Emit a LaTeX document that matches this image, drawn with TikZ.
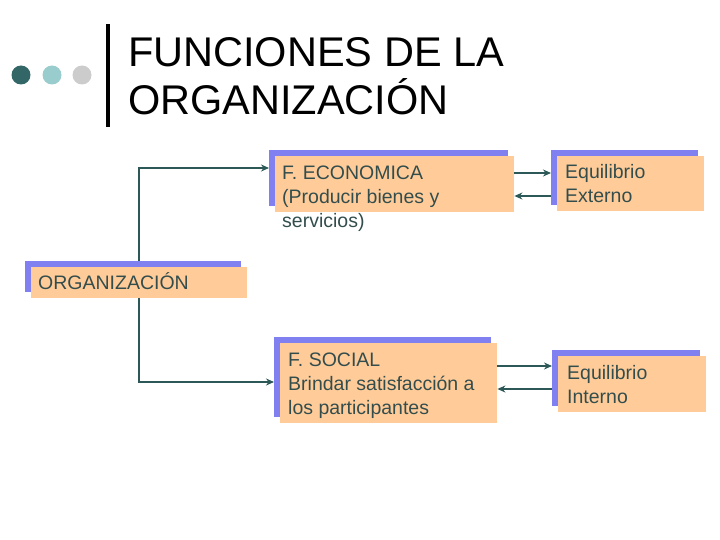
\documentclass[tikz,border=0pt]{standalone}
\usepackage{fontspec}
\setmainfont{Liberation Sans}
\usetikzlibrary{arrows.meta,shadows,calc,backgrounds}
\definecolor{boxfill}{RGB}{255,204,153}
\definecolor{shadowblue}{RGB}{128,128,240}
\definecolor{txtgrey}{RGB}{51,77,77}
\definecolor{connc}{RGB}{45,88,88}
\definecolor{dotdark}{RGB}{51,102,102}
\definecolor{dotlight}{RGB}{153,204,204}
\definecolor{dotgrey}{RGB}{204,204,204}
\tikzset{
  orgbox/.style={fill=boxfill, inner sep=0pt, anchor=north west,
    general shadow={fill=shadowblue, shadow xshift=-6pt, shadow yshift=6pt}},
  boxtext/.style={inner sep=0pt, anchor=north west, align=left, text=txtgrey,
    font=\fontsize{19.5}{24}\selectfont},
  conn/.style={draw=connc, line width=2pt},
  arr/.style={conn, -{Stealth[length=8pt,width=7pt]}},
  titletext/.style={inner sep=0pt, anchor=north west, align=left,
    font=\fontsize{41.5}{48}\selectfont}
}
\begin{document}
\begin{tikzpicture}[x=1pt,y=-1pt]
\useasboundingbox (0,0) rectangle (720,540);
% title
\fill[dotdark] (21,75) circle (9.5);
\fill[dotlight] (52,75) circle (9.5);
\fill[dotgrey] (82,75) circle (9.5);
\fill[black] (106,24) rectangle (110,127);
\node[titletext] (title) at (128,37) {FUNCIONES DE LA\\ORGANIZACIÓN};
% boxes
\node[orgbox, minimum width=216pt, minimum height=31pt] (org) at (31,267) {};
\node[inner sep=0pt, anchor=base west, text=txtgrey, font=\fontsize{19.5}{24}\selectfont] (orgt) at (38,289) {ORGANIZACIÓN};
\node[orgbox, minimum width=239pt, minimum height=56pt] (eco) at (275,156) {};
\node[boxtext] (ecot) at (282,166) {F. ECONOMICA\\(Producir bienes y\\servicios)};
\node[orgbox, minimum width=147pt, minimum height=55pt] (ext) at (557,156) {};
\node[boxtext] (extt) at (565,164) {Equilibrio\\Externo};
\node[orgbox, minimum width=217pt, minimum height=80pt] (soc) at (280,343) {};
\node[boxtext] (soct) at (288,353) {F. SOCIAL\\Brindar satisfacción a\\los participantes};
\node[orgbox, minimum width=148pt, minimum height=56pt] (int) at (558,356) {};
\node[boxtext] (intt) at (567,365) {Equilibrio\\Interno};
% connectors
\begin{scope}[on background layer]
\draw[arr] (org.north) |- ($(eco.north west)+(-6,12)$);
\draw[arr] (org.south) |- ($(soc.north west)+(-6,39)$);
\end{scope}
\draw[arr] ($(eco.north east)+(0,17)$) -- ($(ext.north west)+(-6,17)$);
\draw[arr] ($(ext.north west)+(-6,40)$) -- ($(eco.north east)+(0,40)$);
\draw[arr] ($(soc.north east)+(0,23)$) -- ($(int.north west)+(-6,10)$);
\draw[arr] ($(int.north west)+(-6,33)$) -- ($(soc.north east)+(0,46)$);
\end{tikzpicture}
\end{document}
